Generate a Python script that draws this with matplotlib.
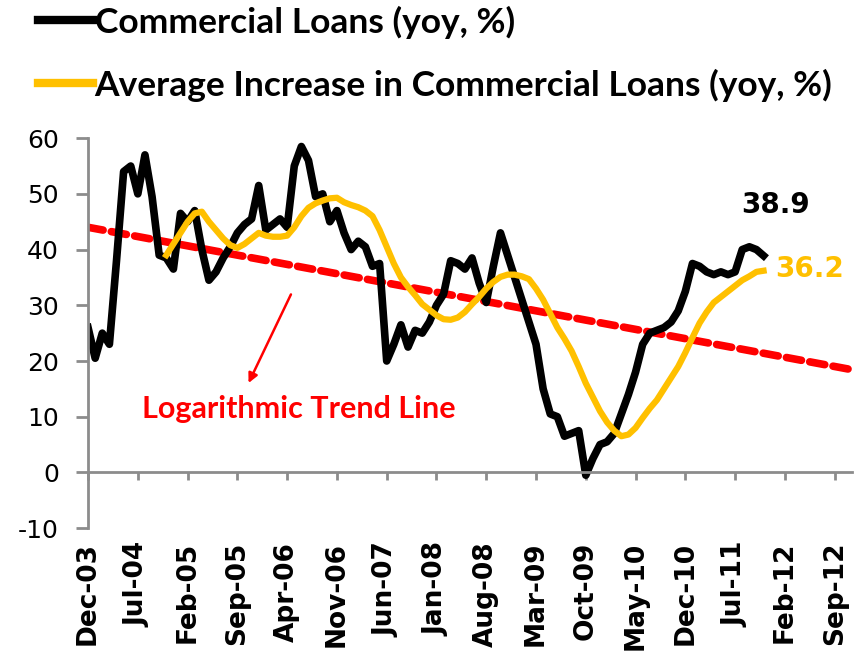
import matplotlib.pyplot as plt
import numpy as np

plt.rcParams["axes.unicode_minus"] = False

# month index 0 = Dec-03
tick_labels = ["Dec-03", "Jul-04", "Feb-05", "Sep-05", "Apr-06", "Nov-06", "Jun-07", "Jan-08",
               "Aug-08", "Mar-09", "Oct-09", "May-10", "Dec-10", "Jul-11", "Feb-12", "Sep-12"]

loans = [26, 20.5, 25, 23, 38, 54, 55, 50, 57, 49.5,
         39, 38.5, 36.5, 46.5, 45, 47, 40, 34.5, 36, 38.5,
         40.5, 43, 44.5, 45.5, 51.5, 43.5, 44.5, 45.5, 44, 55,
         58.5, 56, 49.5, 50, 45, 47, 43, 40, 41.5, 40.5,
         37, 37.5, 20, 23, 26.5, 22.5, 25.5, 25, 27, 30,
         32, 38, 37.5, 36.5, 38.5, 34, 30.5, 37, 43, 39,
         35, 31, 27, 23, 15, 10.5, 10, 6.5, 7, 7.5,
         -0.5, 2.5, 5, 5.5, 7, 10.5, 14, 18, 23, 25,
         25.5, 26, 27, 29, 32.5, 37.5, 37, 36, 35.5, 36,
         35.5, 36, 40, 40.5, 40, 38.9]

# average starts at month 11
avg_start = 11
avg = [39, 41, 43, 45, 46.5, 46.8, 45, 43.5, 42,
       40.8, 40.3, 41, 42, 43, 42.5, 42.3, 42.3, 42.5, 44,
       46, 47.5, 48.3, 48.8, 49.2, 49.3, 48.5, 48, 47.6, 47,
       46, 43.5, 40.5, 37.5, 35, 33.3, 31.8, 30.2, 29.2, 28.2,
       27.5, 27.4, 27.8, 28.8, 30.2, 31.5, 33, 34.2, 35.1, 35.5,
       35.5, 35.2, 34.7, 33, 31, 28.5, 26, 24, 21.8, 19,
       16, 13.5, 11, 9, 7.5, 6.5, 6.8, 8, 9.8, 11.5,
       13, 15, 17, 19, 21.5, 24.2, 26.8, 28.8, 30.5, 31.5,
       32.5, 33.5, 34.5, 35.2, 36, 36.2]

trend_x = [0, 108]
trend_y = [44, 18.3]

x_loans = np.arange(len(loans))
x_avg = np.arange(avg_start, avg_start + len(avg))

fig = plt.figure(figsize=(8.55, 6.61), dpi=100)
ax = fig.add_axes([0.103, 0.201, 0.894, 0.590])

gold = "#FFC000"
ax.plot(trend_x, trend_y, color="#FF0000", lw=5.5, ls=(0, (2.0, 1.1)), dash_capstyle="round", zorder=1)
ax.plot(x_loans, loans, color="black", lw=5.5, label="Commercial Loans (yoy, %)", zorder=2)
ax.plot(x_avg, avg, color=gold, lw=4.5, label="Average Increase in Commercial Loans (yoy, %)", zorder=3)

for s in ["top", "right"]:
    ax.spines[s].set_visible(False)
ax.spines["bottom"].set_position(("data", 0))
ax.spines["left"].set_color("#8c8c8c")
ax.spines["left"].set_linewidth(2)
ax.spines["bottom"].set_color("#8c8c8c")
ax.spines["bottom"].set_linewidth(2)

ax.set_xlim(0, 107.5)
ax.set_ylim(-10, 60)
ax.set_yticks(range(-10, 61, 10))
ax.set_xticks(np.arange(0, 106, 7))
ax.set_xticklabels(tick_labels, fontweight="bold", fontsize=19)
ax.tick_params(axis="y", colors="#8c8c8c", length=9, width=2, labelsize=18, labelcolor="black", pad=12)
ax.tick_params(axis="x", colors="#8c8c8c", length=6, width=2, labelcolor="black", pad=44,
               labelrotation=90)

ax.text(96.7, 48, "38.9", color="black", fontsize=20, fontweight="bold", ha="center", va="center")
ax.text(101.5, 36.5, "36.2", color=gold, fontsize=20, fontweight="bold", ha="center", va="center")
ax.text(29.7, 11.3, "Logarithmic Trend Line", color="#FF0000", fontsize=22, fontweight="bold",
        family="Lato", ha="center", va="center")
ax.annotate("", xy=(22.4, 15.6), xytext=(28.7, 32.4),
            arrowprops=dict(arrowstyle="-|>", color="#FF0000", lw=1.8, mutation_scale=14))

leg = fig.legend(loc="upper left", bbox_to_anchor=(0.007, 1.04), frameon=False, handlelength=1.55,
                 handletextpad=0.05, labelspacing=0.85, prop={"family": "Lato", "weight": "bold", "size": 25.5})
for h in leg.get_lines():
    h.set_linewidth(6)

fig.savefig("out.png", dpi=100)
